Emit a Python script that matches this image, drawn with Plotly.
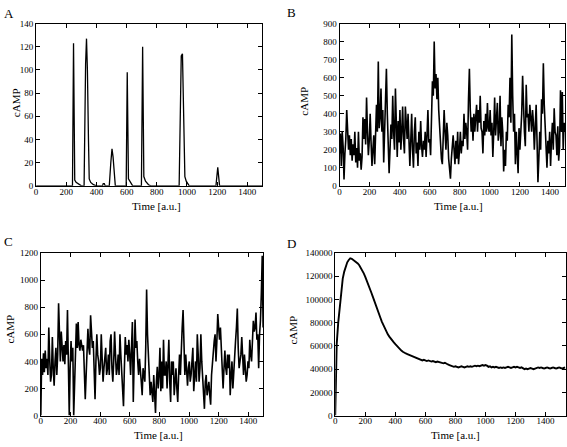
import numpy as np
import plotly.graph_objects as go

W, H = 567, 447


def px(x):
    return x / W


def py(y):
    return 1 - y / H


# ---------------- data ----------------
# Panel A: spike train (time, cAMP)
A_time = [0, 241, 248, 256, 265, 285, 300,
          318, 322, 328, 334, 340, 347, 352, 362, 380, 400,
          440, 445, 452, 458,
          485, 495, 503, 510, 518, 525,
          597, 604, 612, 620, 640,
          698, 706, 714, 725, 745, 760,
          948, 955, 962, 970, 978, 986, 995, 1015,
          1192, 1204, 1216, 1500]
A_camp = [0, 0, 123, 5, 3, 1, 0,
          0, 60, 105, 127, 100, 40, 6, 3, 1, 0,
          0, 2, 2, 0,
          0, 20, 32, 25, 8, 0,
          0, 98, 6, 4, 0,
          0, 120, 8, 4, 1, 0,
          0, 80, 112, 114, 60, 8, 4, 0,
          0, 16, 0, 0]

# Panel B: noisy signal, sampled every 6 time units from 0 to 1500
B_camp = [
    180, 290, 110, 300, 220, 35, 180, 260, 420, 310,
    200, 280, 170, 260, 140, 230, 170, 300, 130, 210,
    100, 300, 140, 180, 90, 160, 380, 260, 370, 230,
    490, 300, 170, 250, 400, 240, 110, 200, 280, 120,
    280, 450, 300, 690, 320, 380, 540, 300, 420, 130,
    300, 480, 650, 400, 250, 70, 200, 340, 260, 500,
    300, 200, 540, 260, 160, 360, 240, 420, 200, 300,
    440, 260, 180, 440, 300, 260, 400, 220, 110, 250,
    400, 200, 100, 300, 380, 180, 240, 110, 300, 200,
    360, 220, 160, 250, 200, 300, 160, 280, 420, 240,
    260, 170, 480, 580, 500, 800, 540, 620, 480, 600,
    420, 300, 200, 150, 120, 250, 420, 300, 200, 350,
    280, 150, 80, 40, 150, 250, 280, 200, 120, 250,
    150, 300, 120, 200, 300, 180, 250, 220, 400, 260,
    350, 300, 200, 480, 650, 420, 300, 380, 250, 400,
    300, 380, 450, 300, 420, 350, 500, 320, 300, 180,
    360, 280, 400, 300, 460, 320, 300, 420, 280, 350,
    160, 300, 490, 280, 350, 460, 250, 300, 500, 220,
    380, 300, 80, 200, 110, 300, 250, 450, 380, 600,
    350, 840, 500, 300, 400, 120, 300, 200, 70, 320,
    200, 300, 400, 610, 350, 300, 220, 560, 380, 400,
    300, 450, 380, 300, 420, 350, 200, 400, 450, 250,
    20, 150, 300, 200, 480, 400, 680, 450, 300, 200,
    100, 250, 180, 300, 110, 250, 350, 200, 430, 300,
    280, 170, 330, 140, 220, 530, 300, 520, 200, 350,
    300]

# Panel C: noisy signal, sampled every 6 time units from 0 to 1500
C_camp = [
    0, 420, 300, 460, 320, 480, 350, 420, 300, 650,
    420, 250, 300, 580, 350, 220, 400, 500, 300, 450,
    830, 500, 400, 620, 450, 400, 520, 380, 550, 450,
    780, 300, 0, 350, 550, 400, 500, 0, 300, 450,
    680, 500, 690, 520, 480, 560, 500, 480, 520, 300,
    120, 300, 500, 640, 500, 450, 740, 600, 500, 550,
    300, 120, 400, 600, 450, 400, 300, 350, 600, 400,
    250, 350, 420, 500, 300, 350, 450, 300, 550, 600,
    350, 250, 400, 620, 450, 300, 350, 450, 300, 600,
    450, 300, 200, 70, 350, 580, 450, 520, 400, 560,
    450, 300, 500, 690, 100, 400, 710, 500, 550, 400,
    300, 420, 350, 250, 150, 350, 300, 250, 500, 930,
    600, 400, 250, 150, 250, 180, 100, 300, 200, 20,
    250, 360, 200, 300, 500, 180, 400, 200, 560, 300,
    300, 400, 200, 450, 560, 250, 100, 400, 300, 400,
    150, 250, 350, 200, 100, 300, 450, 300, 550, 650,
    780, 400, 300, 450, 350, 220, 350, 400, 250, 300,
    400, 500, 180, 300, 400, 250, 600, 450, 250, 350,
    600, 400, 300, 200, 50, 250, 300, 150, 200, 250,
    150, 80, 300, 400, 450, 550, 600, 400, 550, 750,
    650, 560, 650, 500, 400, 200, 350, 480, 350, 300,
    450, 350, 450, 150, 300, 400, 200, 350, 450, 550,
    650, 790, 500, 350, 400, 450, 580, 400, 300, 450,
    350, 250, 300, 400, 350, 560, 450, 400, 550, 700,
    620, 650, 760, 560, 600, 350, 600, 700, 900, 1180,
    650]

# Panel D: early rise points, then every 10 time units from 10 to 1530
D_time_early = [0, 2, 5]
D_camp_early = [0, 20000, 42000]
D_camp = [
    62000, 80000, 95000, 108000, 118000, 124000, 129000, 132000, 134000, 135500,
    135000, 134000, 133500, 132000, 131000, 129500, 127500, 125000, 122500, 119500,
    116500, 113000, 109500, 106000, 102500, 98500, 95000, 91500, 88000, 84500,
    81000, 78000, 75000, 72500, 70000, 68000, 66000, 64500, 63000, 61500,
    60000, 58500, 57000, 56000, 55000, 54000, 53500, 53000, 52500, 52000,
    51500, 51000, 50500, 50000, 49500, 48500, 48000, 47500, 48000, 47500,
    47000, 47500, 47000, 46500, 47000, 46500, 46000, 46500, 46000, 45500,
    45500, 45000, 45500, 44500, 44000, 43500, 43000, 42500, 42000, 42500,
    42000, 41500, 42000, 42500, 42000, 41500, 42000, 42500, 42000, 42500,
    42000, 42500, 43000, 42500, 43000, 42500, 43000, 43500, 43000, 43500,
    43000, 42000, 42500, 41500, 42000, 41500, 42000, 41500, 41000, 41500,
    41000, 41500, 41000, 41500, 42000, 41500, 41000, 41500, 42000, 41500,
    42000, 41500, 41000, 41500, 41000, 40000, 40500, 40000, 40500, 41000,
    40500, 40000, 40500, 41000, 41500, 41000, 41500, 41000, 40500, 41000,
    41500, 41000, 40500, 41000, 41500, 41000, 40500, 41000, 41500, 41000,
    40500, 41000, 41500]

B_time = np.linspace(0, 1500, len(B_camp))
C_time = np.linspace(0, 1500, len(C_camp))
D_time = D_time_early + list(range(10, 10 * len(D_camp) + 1, 10))
D_all = D_camp_early + D_camp

panel_letters = ["A", "B", "C", "D"]
x_title = "Time [a.u.]"
y_title = "cAMP"

# ---------------- figure ----------------
FONT = "Liberation Serif"
fig = go.Figure()
fig.add_trace(go.Scatter(x=A_time, y=A_camp, mode="lines",
                         line=dict(color="black", width=1.3),
                         xaxis="x", yaxis="y", showlegend=False))
fig.add_trace(go.Scatter(x=B_time, y=B_camp, mode="lines",
                         line=dict(color="black", width=1.6),
                         xaxis="x2", yaxis="y2", showlegend=False))
fig.add_trace(go.Scatter(x=C_time, y=C_camp, mode="lines",
                         line=dict(color="black", width=1.6),
                         xaxis="x3", yaxis="y3", showlegend=False))
fig.add_trace(go.Scatter(x=D_time, y=D_all, mode="lines",
                         line=dict(color="black", width=1.9),
                         xaxis="x4", yaxis="y4", showlegend=False))

axis_style = dict(showline=True, linecolor="black", linewidth=1,
                  mirror="allticks", ticks="inside", ticklen=4,
                  tickwidth=1, tickcolor="black", showgrid=False,
                  zeroline=False,
                  tickfont=dict(family=FONT, size=9, color="black"))

top_y = [py(185), py(19)]
bot_y = [py(420), py(253.7)]

fig.update_layout(
    width=W, height=H, autosize=False,
    margin=dict(l=0, r=0, t=0, b=0),
    paper_bgcolor="white", plot_bgcolor="white",
    hovermode=False,
    xaxis=dict(domain=[px(34.3), px(261.8)], anchor="y", range=[0, 1500],
               dtick=200, tick0=0, ticklabelstandoff=-3, **axis_style),
    yaxis=dict(domain=top_y, anchor="x", range=[0, 140], dtick=20,
               tick0=0, **axis_style),
    xaxis2=dict(domain=[px(339.3), px(566)], anchor="y2", range=[0, 1500],
                dtick=200, tick0=0, ticklabelstandoff=-3, **axis_style),
    yaxis2=dict(domain=top_y, anchor="x2", range=[0, 900], dtick=100,
                tick0=0, **axis_style),
    xaxis3=dict(domain=[px(39), px(262.5)], anchor="y3", range=[0, 1500],
                dtick=200, tick0=0, ticklabelstandoff=-3, **axis_style),
    yaxis3=dict(domain=bot_y, anchor="x3", range=[0, 1200], dtick=200,
                tick0=0, **axis_style),
    xaxis4=dict(domain=[px(335), px(567)], anchor="y4", range=[0, 1536],
                dtick=200, tick0=0, ticklabelstandoff=-3, **axis_style),
    yaxis4=dict(domain=bot_y, anchor="x4", range=[0, 140000], dtick=20000,
                tick0=0, tickformat="d", **axis_style),
)

ann = []
# panel letters
for letter, (x, y) in zip(panel_letters,
                          [(0.5, 8.5), (285, 7.5), (0.5, 241.5), (285, 244)]):
    ann.append(dict(text=letter, x=px(x), y=py(y), xref="paper", yref="paper",
                    xanchor="left", yanchor="middle", showarrow=False,
                    font=dict(family=FONT, size=13, color="black")))
# x titles
for (x, y) in [(155, 206), (459.3, 206), (157.7, 440), (455.5, 440)]:
    ann.append(dict(text=x_title, x=px(x), y=py(y), xref="paper",
                    yref="paper", xanchor="center", yanchor="middle",
                    showarrow=False,
                    font=dict(family=FONT, size=11, color="black")))
# y titles
for (x, y) in [(13.5, 100), (304, 98.5), (8.5, 331.5), (292.5, 332)]:
    ann.append(dict(text=y_title, x=px(x), y=py(y), xref="paper",
                    yref="paper", xanchor="center", yanchor="middle",
                    textangle=-90, showarrow=False,
                    font=dict(family=FONT, size=11, color="black")))
fig.update_layout(annotations=ann)

fig.write_html("out.html",
               config={"displayModeBar": False, "staticPlot": True},
               post_script="document.body.style.margin='0';"
                           "document.body.style.overflow='hidden';")
